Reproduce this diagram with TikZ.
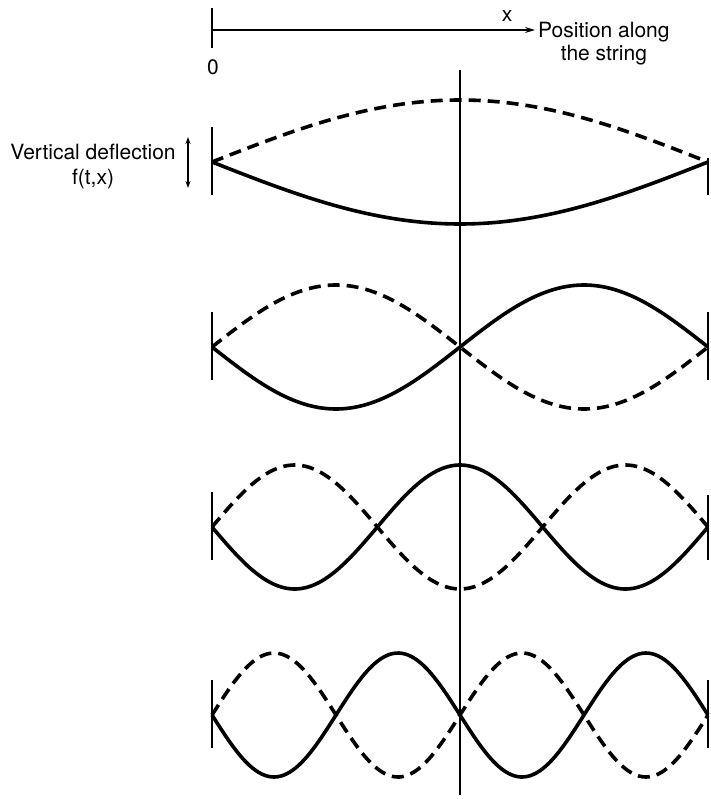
\documentclass[tikz,border=0pt]{standalone}
\usepackage{fontspec}
\setmainfont{TeX Gyre Heros}
\usetikzlibrary{arrows.meta}
\begin{document}
\begin{tikzpicture}[x=1pt,y=-1pt,
  thinline/.style={line width=1.2pt},
  wave/.style={line width=3.6pt,line join=round},
  wavedash/.style={line width=3.6pt,dash pattern=on 12pt off 7pt},
  lbl/.style={font=\fontsize{21}{25}\selectfont,inner sep=0pt,anchor=base}]
\useasboundingbox (0,0) rectangle (710,799);
% top axis
\coordinate (tt) at (212,8);
\coordinate (tb) at (212,48);
\coordinate (a0) at (212,30);
\coordinate (a1) at (535,30);
\draw[thinline] (tt) -- (tb);
\draw[thinline,-{Stealth[length=10pt,width=6pt]}] (a0) -- (a1);
\node[lbl] (xl) at (507,22) {x};
\node[lbl,anchor=base west] (pos1) at (538,38) {Position along};
\node[lbl] (pos2) at (pos1.base) [yshift=-23pt] {the string};
\node[lbl] (zero) at (213,75) {0};
% vertical deflection
\node[lbl] (vd1) at (93,160) {Vertical deflection};
\node[lbl] (vd2) at (93,185) {f(t,x)};
\coordinate (va) at (188,137);
\coordinate (vb) at (188,188);
\draw[thinline,{Stealth[length=7pt,width=5pt]}-{Stealth[length=7pt,width=5pt]}] (va) -- (vb);
% centre line
\coordinate (ct) at (460,70);
\coordinate (cb) at (460,795);
\draw[thinline] (ct) -- (cb);
% end ticks
\foreach \ay/\n in {162/1,347/2,527/3,715/4}{
  \coordinate (l\n t) at (212,\ay-35);
  \coordinate (l\n b) at (212,\ay+33);
  \draw[thinline] (l\n t) -- (l\n b);
}
\foreach \ay/\n/\up in {162/1/4,347/2/35,527/3/32,715/4/35}{
  \coordinate (r\n t) at (708,\ay-\up);
  \coordinate (r\n b) at (708,\ay+33);
  \draw[thinline] (r\n t) -- (r\n b);
}
% waves
\foreach \ay/\n in {162/1,347/2,527/3,715/4}{
  \draw[wave] plot[domain=0:1,samples=160,smooth] ({212+496*\x},{\ay+62*sin(180*\n*\x)});
  \draw[wavedash] plot[domain=0:1,samples=160,smooth] ({212+496*\x},{\ay-62*sin(180*\n*\x)});
}
\end{tikzpicture}
\end{document}
